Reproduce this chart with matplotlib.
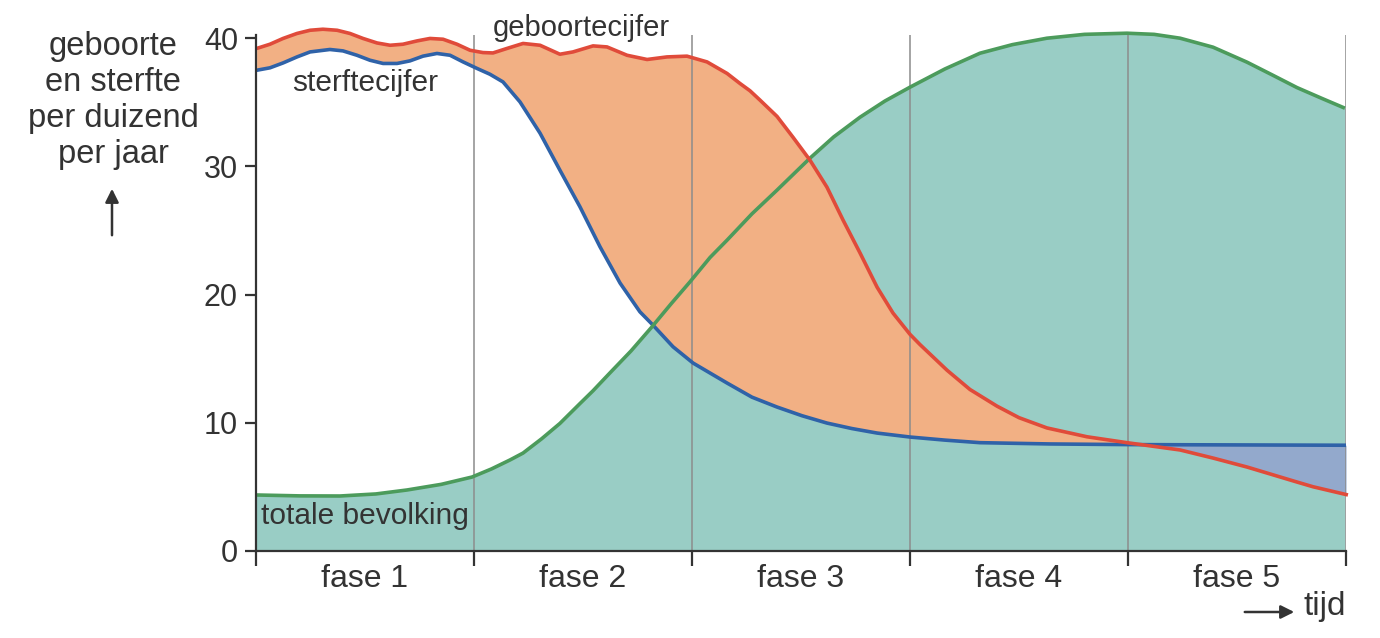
import matplotlib
matplotlib.use("Agg")
import matplotlib.pyplot as plt
import numpy as np

plt.rcParams['font.family'] = ['Liberation Sans', 'DejaVu Sans']

# values, x in phases (0..5), y per duizend
geboorte_x = [0.003, 0.064, 0.124, 0.188, 0.248, 0.307, 0.372, 0.431, 0.491, 0.555, 0.615, 0.674,
              0.739, 0.798, 0.858, 0.922, 0.982, 1.041, 1.087, 1.151, 1.225, 1.303, 1.394, 1.454,
              1.546, 1.610, 1.702, 1.794, 1.885, 1.977, 2.069, 2.161, 2.220, 2.266, 2.312, 2.39,
              2.463, 2.541, 2.619, 2.693, 2.771, 2.849, 2.922, 3.0, 3.046, 3.17, 3.275, 3.399,
              3.5, 3.628, 3.812, 3.995, 4.239, 4.39, 4.546, 4.775, 4.849, 5.009]
geboorte_y = [39.20, 39.53, 39.98, 40.37, 40.62, 40.70, 40.62, 40.37, 39.98, 39.63, 39.45, 39.53,
              39.79, 39.98, 39.92, 39.53, 39.06, 38.88, 38.85, 39.20, 39.59, 39.45, 38.75, 38.93,
              39.40, 39.32, 38.67, 38.34, 38.54, 38.60, 38.15, 37.25, 36.47, 35.9, 35.17, 33.9,
              32.28, 30.49, 28.38, 25.81, 23.24, 20.58, 18.56, 16.9, 16.1, 14.1, 12.6, 11.3,
              10.4, 9.6, 8.91, 8.45, 7.88, 7.25, 6.55, 5.38, 5.01, 4.37]

sterfte_x = [0.003, 0.064, 0.124, 0.188, 0.248, 0.339, 0.399, 0.463, 0.523, 0.583, 0.647, 0.706,
             0.766, 0.830, 0.890, 0.950, 1.014, 1.073, 1.133, 1.211, 1.303, 1.394, 1.486, 1.578,
             1.670, 1.761, 1.821, 1.913, 2.005, 2.083, 2.161, 2.275, 2.39, 2.505, 2.619, 2.734,
             2.849, 3.0, 3.16, 3.321, 3.642, 3.995, 5.0]
sterfte_y = [37.50, 37.69, 38.07, 38.54, 38.93, 39.12, 39.01, 38.67, 38.28, 38.03, 38.03, 38.23,
             38.60, 38.81, 38.67, 38.15, 37.64, 37.19, 36.59, 35.03, 32.59, 29.71, 26.85, 23.73,
             20.90, 18.66, 17.62, 15.93, 14.66, 13.88, 13.1, 12.0, 11.23, 10.55, 9.98, 9.55,
             9.2, 8.89, 8.65, 8.45, 8.35, 8.3, 8.25]

bevolking_x = [0.0, 0.2, 0.385, 0.55, 0.693, 0.85, 0.991, 1.08, 1.165, 1.225, 1.31, 1.394, 1.486,
               1.546, 1.624, 1.72, 1.817, 1.905, 1.991, 2.083, 2.161, 2.275, 2.39, 2.541, 2.65,
               2.771, 2.885, 3.0, 3.16, 3.321, 3.47, 3.628, 3.8, 3.995, 4.12, 4.239, 4.39, 4.546,
               4.66, 4.775, 4.89, 4.995]
bevolking_y = [4.37, 4.3, 4.29, 4.45, 4.76, 5.2, 5.77, 6.4, 7.1, 7.64, 8.75, 9.95, 11.5,
               12.5, 13.9, 15.6, 17.5, 19.3, 21.0, 22.9, 24.25, 26.3, 28.15, 30.64, 32.3,
               33.84, 35.1, 36.18, 37.6, 38.83, 39.5, 40.0, 40.3, 40.39, 40.3, 40.0, 39.3, 38.13,
               37.15, 36.15, 35.3, 34.54]

fasen = ['fase 1', 'fase 2', 'fase 3', 'fase 4', 'fase 5']
y_ticks = [0, 10, 20, 30, 40]

fig = plt.figure(figsize=(13.8, 6.38), dpi=100)
ax = fig.add_axes([256 / 1380, 87 / 638, 1090 / 1380, 516 / 638])
ax.set_xlim(0, 5)
ax.set_ylim(0, 40.25)

# common grid to fill between the curves
xs = np.union1d(geboorte_x, sterfte_x)
xs = xs[(xs >= 0) & (xs <= 5)]
gb = np.interp(xs, geboorte_x, geboorte_y)
st = np.interp(xs, sterfte_x, sterfte_y)

ax.fill_between(bevolking_x, 0, bevolking_y, color='#99cdc5', lw=0, zorder=1, clip_on=False)
ax.fill_between(xs, st, gb, where=gb >= st, interpolate=True, color='#f2b084', lw=0, zorder=2,
                clip_on=False)
ax.fill_between(xs, st, gb, where=gb < st, interpolate=True, color='#93a9cc', lw=0, zorder=2)

for x in [1, 2, 3, 4, 5]:
    ax.axvline(x, color='#8c8c8c', lw=1.1, zorder=3)

kw = dict(lw=2.6, solid_joinstyle='round', solid_capstyle='butt', clip_on=False)
ax.plot(sterfte_x, sterfte_y, color='#2f62a8', zorder=4, **kw)
ax.plot(bevolking_x, bevolking_y, color='#4c9b5c', zorder=5, **kw)
ax.plot(geboorte_x, geboorte_y, color='#e04b3a', zorder=6, **kw)

for s in ['top', 'right']:
    ax.spines[s].set_visible(False)
for s in ['left', 'bottom']:
    ax.spines[s].set_color('#333333')
    ax.spines[s].set_linewidth(1.6)
    ax.spines[s].set_zorder(7)

ax.set_yticks(y_ticks)
ax.set_xticks(range(6))
ax.set_xticklabels([])
ax.tick_params(axis='y', length=8, width=1.6, color='#333333', labelsize=22, labelcolor='#333333', pad=5)
ax.tick_params(axis='x', length=11, width=1.6, color='#333333')

for i, f in enumerate(fasen):
    ax.text(i + 0.5, -0.054, f, transform=ax.get_xaxis_transform(), ha='center', va='center',
            fontsize=23, color='#333333')

ax.text(0.5, 36.5, 'sterftecijfer', ha='center', va='center', fontsize=21.5, color='#333333', zorder=8)
ax.text(1.49, 40.8, 'geboortecijfer', ha='center', va='center', fontsize=21, color='#333333',
        clip_on=False, zorder=8)
ax.text(0.022, 2.7, 'totale bevolking', ha='left', va='center', fontsize=21.5, color='#333333', zorder=8)

for i, line in enumerate(['geboorte', 'en sterfte', 'per duizend', 'per jaar']):
    fig.text(113 / 1380, 1 - (47 + 35.7 * i) / 638, line, ha='center', va='center', fontsize=23.5,
             color='#333333')
fig.patches.append(matplotlib.patches.FancyArrowPatch(
    (112 / 1380, 1 - 238 / 638), (112 / 1380, 1 - 186 / 638), transform=fig.transFigure,
    arrowstyle='-|>', mutation_scale=20, color='#333333', lw=1.8))
fig.patches.append(matplotlib.patches.FancyArrowPatch(
    (1242 / 1380, 1 - 612 / 638), (1297 / 1380, 1 - 612 / 638), transform=fig.transFigure,
    arrowstyle='-|>', mutation_scale=20, color='#333333', lw=1.8))
fig.text(1303 / 1380, 1 - 607 / 638, 'tijd', ha='left', va='center', fontsize=24, color='#333333')

fig.savefig('out.png', dpi=100)
